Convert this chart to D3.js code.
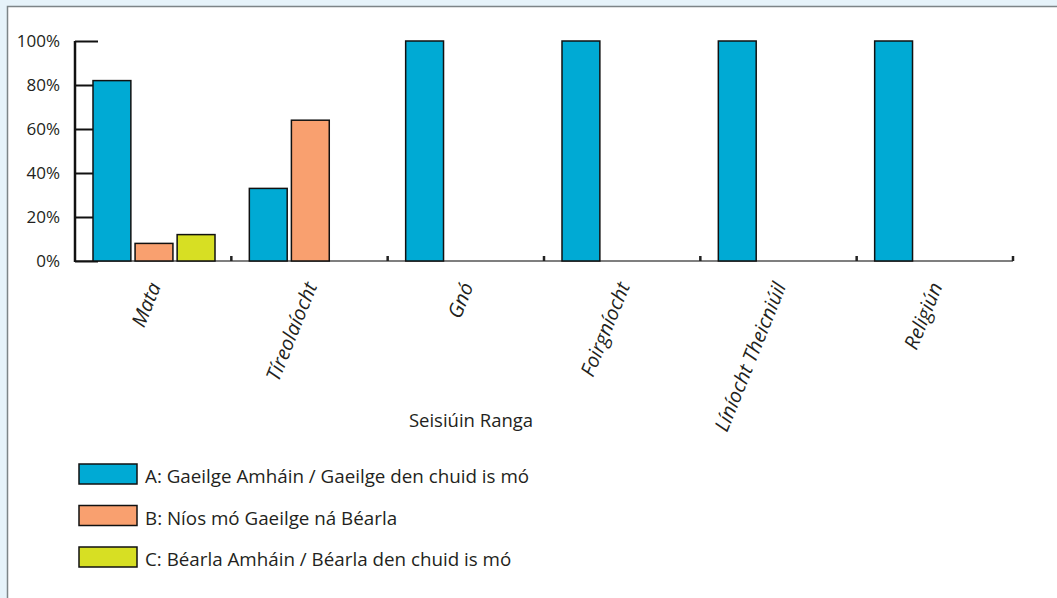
<!DOCTYPE html>
<html>
  <head>
    <meta charset='utf-8'>
    <title>Seisiúin Ranga</title>
    <script src='https://d3js.org/d3.v7.min.js'></script>
    <style>
      body { margin: 0; background: #e6f3fa; }
      text { font-family: 'Open Sans', sans-serif; fill: #231f20; }
    </style>
  </head>

  <body>
    <div id='grafico'></div>
    <script>
    // Datos
    const categorias = ['Mata', 'Tíreolaíocht', 'Gnó', 'Foirgníocht', 'Líníocht Theicniúil', 'Religiún'];
    const series = ['A', 'B', 'C'];
    const etiquetas = ['A: Gaeilge Amháin / Gaeilge den chuid is mó',
                       'B: Níos mó Gaeilge ná Béarla',
                       'C: Béarla Amháin / Béarla den chuid is mó'];
    const valoresA = [82, 33, 100, 100, 100, 100];
    const valoresB = [8, 64, 0, 0, 0, 0];
    const valoresC = [12, 0, 0, 0, 0, 0];
    const ticksY = [0, 20, 40, 60, 80, 100];
    const colores = ['#00aad4', '#f9a06f', '#d7df23'];

    const W = 1057, H = 598;
    const margin = { top: 41, left: 75 },
          width  = 1013 - 75,
          height = 261 - 41;

    const svg = d3.select('#grafico').append('svg')
                  .attr('width', W)
                  .attr('height', H)
                  .style('display', 'block');

    // Panel blanco
    svg.append('rect')
      .attr('x', 7.5).attr('y', 6.5)
      .attr('width', W).attr('height', H)
      .attr('fill', '#fff').attr('stroke', '#7d8588').attr('stroke-width', 1.5);

    const g = svg.append('g')
      .attr('transform', 'translate(' + margin.left + ',' + margin.top + ')');

    // Escalas
    const xScale = d3.scaleBand().domain(categorias).range([0, width]);
    const xSerie = d3.scaleBand().domain(series).range([18, 140]).paddingInner(0.1);
    const yScale = d3.scaleLinear().domain([0, 100]).range([height, 0]);
    const color = d3.scaleOrdinal().domain(series).range(colores);

    const valores = { A: valoresA, B: valoresB, C: valoresC };
    const filas = categorias.map((c, i) => ({ cat: c, vals: series.map(s => ({ s: s, v: valores[s][i] })) }));

    // Eje X (línea gris con marcas pequeñas)
    g.append('line')
      .attr('x1', 0).attr('x2', width)
      .attr('y1', height).attr('y2', height)
      .attr('stroke', '#555').attr('stroke-width', 1.5);
    const bordes = categorias.map(c => xScale(c)).concat([width]);
    g.selectAll('.marca').data(bordes.slice(1)).enter().append('line')
      .attr('x1', d => d).attr('x2', d => d)
      .attr('y1', height).attr('y2', height - 5)
      .attr('stroke', '#222').attr('stroke-width', 2.5);

    // Eje Y
    const yAxis = d3.axisRight(yScale).tickValues(ticksY).tickSize(23).tickFormat('');
    const ejeY = g.append('g').call(yAxis);
    ejeY.select('.domain').remove();
    ejeY.selectAll('line').attr('stroke', '#111').attr('stroke-width', 2);

    // Barras
    const grupos = g.selectAll('.grupo').data(filas).enter().append('g')
      .attr('transform', d => 'translate(' + xScale(d.cat) + ',0)');
    grupos.selectAll('rect').data(d => d.vals).enter().append('rect')
      .attr('x', d => xSerie(d.s))
      .attr('y', d => yScale(d.v))
      .attr('width', xSerie.bandwidth())
      .attr('height', d => height - yScale(d.v))
      .attr('fill', d => color(d.s))
      .attr('stroke', '#111')
      .attr('stroke-width', d => d.v > 0 ? 1.5 : 0.8);

    g.append('line')
      .attr('x1', 0).attr('x2', 0)
      .attr('y1', 0).attr('y2', height + 1)
      .attr('stroke', '#111').attr('stroke-width', 2.5);

    // Etiquetas del eje Y
    g.selectAll('.ety').data(ticksY).enter().append('text')
      .attr('x', -15).attr('y', d => yScale(d) + 6)
      .attr('text-anchor', 'end')
      .style('font-size', '17px')
      .text(d => d + '%');

    // Etiquetas del eje X
    g.selectAll('.etx').data(categorias).enter().append('text')
      .attr('transform', d => 'translate(' + (xScale(d) + xScale.bandwidth() / 2 + 8) + ',' + (height + 25) + ') rotate(-68)')
      .attr('text-anchor', 'end')
      .style('font-size', '20px')
      .style('font-style', 'italic')
      .text(d => d);

    // Título del eje X
    svg.append('text')
      .attr('x', 471).attr('y', 427)
      .attr('text-anchor', 'middle')
      .style('font-size', '18.5px')
      .text('Seisiúin Ranga');

    // Leyenda
    const leyenda = svg.selectAll('.ley').data(series).enter().append('g')
      .attr('transform', (d, i) => 'translate(79,' + (464 + i * 41.5) + ')');
    leyenda.append('rect')
      .attr('width', 58).attr('height', 20)
      .attr('fill', d => color(d))
      .attr('stroke', '#111').attr('stroke-width', 1.5);
    leyenda.append('text')
      .attr('x', 66).attr('y', 19)
      .style('font-size', '18.8px')
      .text((d, i) => etiquetas[i]);
    </script>
  </body>
</html>
